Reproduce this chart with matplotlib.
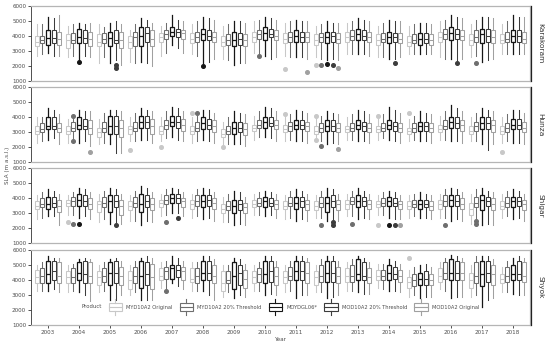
import matplotlib
matplotlib.use("Agg")
import matplotlib.pyplot as plt
from matplotlib.patches import Patch, Rectangle
from matplotlib.lines import Line2D
from matplotlib.legend_handler import HandlerBase

# Years and products (order of the boxes inside each year)
years = list(range(2003, 2019))
products = ["MYD10A2 Original", "MYD10A2 20% Threshold", "MOYDGL06*",
            "MOD10A2 20% Threshold", "MOD10A2 Original"]
colors = ["#c8c8c8", "#6e6e6e", "#151515", "#3c3c3c", "#a0a0a0"]
regions = ["Karakoram", "Hunza", "Shigar", "Shyok"]

# ---- Karakoram ----
kar_med = [
    [3600, 3700, 3600, 3600, 3900, 3800, 3600, 3900, 3800, 3700, 3900, 3700, 3600, 3900, 3700, 3700],
    [3700, 3700, 3800, 3900, 4100, 3900, 3700, 4100, 3900, 3900, 4000, 3800, 3700, 4100, 3900, 3800],
    [3850, 3950, 3850, 4000, 4300, 4100, 3700, 4200, 4000, 3900, 4100, 3900, 3800, 4200, 4100, 4000],
    [3850, 3850, 3700, 4200, 4250, 4000, 3800, 4100, 3900, 4000, 4000, 3900, 3800, 4100, 4000, 4000],
    [3800, 3800, 3700, 3800, 4200, 3900, 3700, 4000, 3900, 3800, 3900, 3800, 3700, 4000, 3900, 3800],
]
kar_q1 = [
    [3300, 3200, 3300, 3200, 3600, 3500, 3300, 3600, 3500, 3400, 3600, 3400, 3300, 3600, 3400, 3500],
    [3500, 3500, 3500, 3300, 3800, 3600, 3400, 3800, 3600, 3600, 3700, 3600, 3500, 3800, 3600, 3600],
    [3400, 3500, 3300, 3300, 4000, 3700, 3300, 3700, 3600, 3500, 3700, 3500, 3400, 3700, 3500, 3600],
    [3500, 3500, 3500, 3600, 3900, 3700, 3400, 3900, 3600, 3600, 3700, 3600, 3500, 3800, 3600, 3600],
    [3400, 3300, 3200, 3300, 3800, 3600, 3300, 3700, 3600, 3500, 3600, 3500, 3400, 3700, 3500, 3500],
]
kar_q3 = [
    [4000, 4100, 4100, 4000, 4200, 4200, 4000, 4300, 4200, 4100, 4300, 4100, 4000, 4300, 4100, 4100],
    [4000, 4200, 4200, 4300, 4400, 4300, 4100, 4400, 4300, 4200, 4400, 4200, 4100, 4500, 4400, 4300],
    [4400, 4500, 4300, 4600, 4600, 4500, 4300, 4600, 4400, 4300, 4500, 4300, 4200, 4600, 4500, 4400],
    [4400, 4400, 4400, 4600, 4500, 4400, 4200, 4500, 4300, 4300, 4400, 4200, 4200, 4500, 4500, 4400],
    [4300, 4300, 4300, 4400, 4400, 4300, 4100, 4400, 4300, 4200, 4300, 4200, 4100, 4400, 4400, 4300],
]
kar_lo = [
    [2700, 2600, 2200, 2300, 2700, 2800, 2500, 2900, 2700, 2600, 2800, 2600, 2800, 2600, 2600, 2800],
    [2800, 2700, 2600, 2200, 2900, 2700, 2400, 2800, 2600, 2500, 2800, 2600, 2800, 2500, 2700, 2800],
    [2900, 2400, 2200, 2300, 3400, 2200, 2100, 2700, 2600, 2400, 2800, 2500, 2800, 2500, 2300, 2800],
    [2700, 2700, 2400, 2200, 3200, 2300, 2200, 2500, 2600, 2500, 2800, 2500, 2800, 2400, 2400, 2800],
    [2700, 2600, 2100, 2000, 2900, 2500, 2200, 2600, 2500, 2400, 2700, 2600, 2800, 2500, 2500, 2800],
]
kar_hi = [
    [4800, 4700, 4800, 4400, 4700, 4800, 4700, 5000, 4900, 4700, 4900, 4700, 4700, 5000, 4800, 4800],
    [4800, 4800, 4600, 4800, 4900, 5000, 4800, 5100, 5000, 4800, 5000, 4900, 4800, 5100, 5100, 5000],
    [5300, 4900, 4900, 5200, 5400, 5300, 5000, 5300, 5100, 5000, 5200, 5100, 4900, 5400, 5300, 5400],
    [5200, 4800, 5000, 5100, 5100, 5200, 5000, 5200, 5000, 4900, 5100, 5000, 4900, 5300, 5300, 5300],
    [5400, 4900, 4800, 4900, 5000, 5100, 4900, 5100, 5000, 4900, 5000, 5000, 4800, 5200, 5200, 5300],
]
# outliers: (year, product index, value)
kar_out = [(2004, 2, 2300), (2005, 3, 2100), (2005, 3, 1900), (2008, 2, 2000),
           (2010, 1, 2700), (2011, 0, 1800), (2011, 4, 1600), (2012, 0, 2100),
           (2012, 1, 2100), (2012, 2, 2150), (2012, 3, 2100), (2012, 4, 1900),
           (2014, 3, 2200), (2016, 3, 2200), (2017, 1, 2200)]

# ---- Hunza ----
hun_med = [
    [3100, 3100, 3000, 3200, 3100, 3100, 2900, 3300, 3200, 3100, 3200, 3200, 3100, 3200, 3100, 3100],
    [3200, 3300, 3300, 3300, 3500, 3300, 3100, 3500, 3400, 3300, 3300, 3300, 3300, 3400, 3400, 3300],
    [3400, 3500, 3400, 3700, 3700, 3600, 3300, 3700, 3500, 3400, 3500, 3500, 3400, 3700, 3600, 3500],
    [3400, 3400, 3400, 3700, 3700, 3500, 3300, 3600, 3500, 3400, 3400, 3400, 3400, 3600, 3600, 3500],
    [3300, 3300, 3300, 3400, 3500, 3400, 3200, 3500, 3400, 3300, 3300, 3300, 3300, 3500, 3500, 3300],
]
hun_q1 = [
    [2900, 2900, 2700, 2900, 2900, 2900, 2700, 3100, 3000, 2900, 3000, 3000, 2900, 3000, 2900, 2900],
    [3000, 3100, 3000, 3100, 3200, 3100, 2900, 3300, 3100, 3000, 3100, 3100, 3000, 3200, 3100, 3000],
    [3200, 3200, 2900, 3300, 3400, 3200, 2900, 3300, 3200, 3100, 3200, 3200, 3100, 3300, 3200, 3200],
    [3200, 3200, 2900, 3300, 3300, 3200, 3000, 3400, 3200, 3100, 3100, 3100, 3100, 3300, 3200, 3200],
    [3000, 2900, 2700, 2900, 3100, 3000, 2800, 3200, 3100, 3000, 3000, 3000, 3000, 3100, 3000, 3000],
]
hun_q3 = [
    [3400, 3400, 3300, 3400, 3400, 3400, 3200, 3500, 3500, 3400, 3400, 3400, 3300, 3500, 3400, 3400],
    [3600, 3700, 3700, 3700, 3800, 3700, 3400, 3800, 3700, 3600, 3600, 3600, 3600, 3800, 3700, 3600],
    [4000, 4000, 4100, 4100, 4100, 4000, 3700, 4000, 3800, 3800, 3800, 3800, 3700, 4000, 4000, 3900],
    [4000, 3900, 4100, 4100, 4100, 3900, 3700, 4000, 3800, 3800, 3700, 3700, 3700, 4000, 4000, 3900],
    [3600, 3800, 3800, 3900, 3900, 3800, 3600, 3800, 3700, 3600, 3600, 3600, 3600, 3800, 3800, 3700],
]
hun_lo = [
    [2300, 2300, 2200, 2400, 2400, 2300, 2200, 2500, 2400, 2700, 2500, 2500, 2400, 2500, 2400, 2300],
    [2400, 2600, 2300, 2400, 2600, 2400, 2200, 2700, 2500, 2400, 2500, 2600, 2500, 2500, 2400, 2400],
    [2500, 2300, 2200, 2500, 2700, 2500, 2200, 2700, 2400, 2200, 2400, 2500, 2400, 2400, 2200, 2300],
    [2600, 2400, 1600, 2500, 2500, 2400, 2200, 2600, 2400, 2300, 2400, 2400, 2400, 2400, 1800, 2300],
    [2200, 2100, 1600, 2300, 2400, 2300, 2100, 2400, 2300, 2200, 2300, 2300, 2300, 2300, 2200, 2200],
]
hun_hi = [
    [4000, 3900, 3900, 4000, 4000, 4000, 3700, 4100, 4000, 3900, 4000, 3900, 3900, 4100, 4000, 4000],
    [4000, 3900, 4300, 4300, 4400, 4100, 4000, 4400, 4200, 4100, 4200, 4200, 4100, 4400, 4300, 4200],
    [4600, 4500, 4500, 4600, 4700, 4500, 4400, 4700, 4500, 4400, 4500, 4700, 4400, 4800, 4600, 4500],
    [4500, 4400, 4500, 4500, 4600, 4500, 4300, 4600, 4400, 4300, 4400, 4500, 4300, 4600, 4500, 4500],
    [4200, 4400, 4400, 4400, 4400, 4300, 4200, 4400, 4300, 4200, 4200, 4300, 4200, 4400, 4400, 4300],
]
hun_out = [(2004, 1, 2400), (2004, 1, 4100), (2004, 4, 1700), (2006, 0, 1800),
           (2007, 0, 2000), (2008, 0, 4300), (2008, 1, 4300), (2009, 0, 2000),
           (2011, 0, 4200), (2012, 0, 4100), (2012, 0, 2500), (2012, 1, 2100),
           (2012, 4, 1900), (2014, 0, 4100), (2015, 0, 4300), (2018, 0, 1700)]

# ---- Shigar ----
shi_med = [
    [3500, 3700, 3600, 3500, 3700, 3600, 3300, 3600, 3500, 3500, 3600, 3600, 3500, 3600, 3300, 3500],
    [3600, 3800, 3700, 3700, 3900, 3800, 3500, 3700, 3700, 3700, 3800, 3700, 3600, 3800, 3700, 3700],
    [3600, 3900, 3800, 3600, 4000, 3800, 3500, 3800, 3700, 3700, 3800, 3800, 3600, 3900, 3900, 3800],
    [3700, 3800, 3800, 3800, 4000, 3900, 3600, 3700, 3800, 3800, 3800, 3700, 3600, 3800, 3800, 3800],
    [3500, 3600, 3500, 3600, 3800, 3700, 3400, 3600, 3600, 3600, 3600, 3600, 3500, 3600, 3600, 3600],
]
shi_q1 = [
    [3300, 3500, 3100, 3200, 3400, 3300, 3000, 3400, 3300, 3200, 3300, 3400, 3300, 3300, 2900, 3300],
    [3400, 3500, 3400, 3400, 3600, 3500, 3200, 3500, 3500, 3400, 3600, 3500, 3400, 3500, 3400, 3400],
    [3300, 3500, 3100, 3100, 3700, 3400, 3000, 3400, 3300, 3100, 3400, 3500, 3300, 3500, 3200, 3400],
    [3400, 3500, 3400, 3400, 3700, 3500, 3200, 3500, 3400, 3400, 3500, 3500, 3400, 3500, 3500, 3500],
    [3100, 3300, 2900, 3200, 3400, 3300, 3000, 3300, 3200, 3200, 3300, 3300, 3200, 3300, 3200, 3200],
]
shi_q3 = [
    [3800, 3900, 3800, 3800, 3900, 3900, 3600, 3900, 3800, 3800, 3900, 3800, 3800, 3900, 3700, 3800],
    [4000, 4100, 4100, 4100, 4200, 4200, 3800, 4000, 4100, 4100, 4100, 4000, 3900, 4200, 4100, 4100],
    [4100, 4300, 4200, 4300, 4300, 4200, 3900, 4100, 4100, 4100, 4200, 4100, 3900, 4200, 4200, 4100],
    [4100, 4200, 4200, 4200, 4300, 4200, 3900, 4000, 4100, 4200, 4100, 4000, 3900, 4200, 4100, 4100],
    [3900, 4000, 3900, 4000, 4000, 4000, 3700, 3900, 3900, 3900, 3900, 3800, 3800, 4000, 4000, 3900],
]
shi_lo = [
    [2600, 2900, 2400, 2500, 2800, 2700, 2400, 2900, 2600, 2700, 2800, 2900, 2700, 2700, 2300, 2700],
    [2700, 2900, 2600, 2500, 2900, 2800, 2400, 2900, 2700, 2700, 2800, 2900, 2800, 2700, 2700, 2800],
    [2800, 2700, 2300, 2200, 3000, 2600, 2200, 2800, 2500, 2500, 2600, 2700, 2700, 2500, 2200, 2600],
    [2800, 2800, 2400, 2500, 3000, 2700, 2300, 2900, 2600, 2600, 2700, 2600, 2700, 2600, 2300, 2700],
    [2200, 2600, 2300, 2400, 2800, 2500, 2200, 2700, 2500, 2500, 2600, 2600, 2600, 2500, 2200, 2500],
]
shi_hi = [
    [4200, 4200, 4300, 4200, 4300, 4300, 4100, 4300, 4200, 4200, 4300, 4200, 4200, 4300, 4300, 4300],
    [4400, 4400, 4500, 4500, 4600, 4600, 4300, 4400, 4500, 4500, 4500, 4400, 4300, 4600, 4600, 4500],
    [4600, 4700, 4700, 4800, 4700, 4700, 4500, 4500, 4600, 4700, 4700, 4500, 4400, 4700, 4700, 4600],
    [4500, 4600, 4600, 4700, 4600, 4600, 4400, 4400, 4500, 4600, 4500, 4400, 4300, 4600, 4500, 4500],
    [4300, 4400, 4300, 4400, 4400, 4400, 4100, 4300, 4300, 4300, 4300, 4200, 4200, 4400, 4400, 4300],
]
shi_out = [(2004, 0, 2400), (2004, 1, 2300), (2004, 2, 2300), (2005, 3, 2200),
           (2007, 1, 2400), (2007, 3, 2700), (2012, 1, 2200), (2012, 3, 2400),
           (2012, 3, 2200), (2013, 1, 2300), (2014, 0, 2200), (2014, 2, 2200),
           (2014, 3, 2200), (2014, 4, 2200), (2016, 1, 2200), (2017, 1, 2500),
           (2017, 1, 2300)]

# ---- Shyok ----
shy_med = [
    [4200, 4200, 4200, 4000, 4300, 4100, 3800, 4200, 4200, 4200, 4300, 4300, 3900, 4300, 4000, 4100],
    [4300, 4200, 4300, 4300, 4600, 4300, 4000, 4400, 4300, 4300, 4300, 4300, 4000, 4500, 4300, 4300],
    [4400, 4500, 4500, 4300, 4800, 4500, 4300, 4400, 4600, 4500, 4400, 4500, 4100, 4500, 4400, 4400],
    [4600, 4400, 4500, 4400, 4700, 4500, 4500, 4600, 4600, 4500, 4300, 4400, 4100, 4500, 4500, 4400],
    [4300, 4300, 4300, 4200, 4600, 4300, 4100, 4300, 4500, 4300, 4200, 4300, 4000, 4500, 4400, 4300],
]
shy_q1 = [
    [3800, 3800, 3700, 3400, 4000, 3900, 3300, 3800, 3800, 3700, 3900, 4000, 3500, 3900, 3500, 3800],
    [3800, 3800, 3900, 3800, 4100, 3800, 3800, 3900, 4000, 3900, 3900, 4000, 3600, 4100, 3800, 3900],
    [3800, 4000, 3700, 3500, 4100, 4000, 3400, 3800, 4000, 3900, 4000, 4000, 3700, 4000, 3600, 4000],
    [4000, 3800, 3800, 3700, 4200, 4000, 3700, 3900, 4000, 3900, 4000, 4100, 3700, 4000, 3900, 4000],
    [3800, 3800, 3700, 3400, 4000, 3800, 3500, 3700, 3800, 3800, 3800, 3900, 3700, 4000, 3700, 3900],
]
shy_q3 = [
    [4700, 4600, 4600, 4600, 4800, 4800, 4600, 4600, 4600, 4600, 4800, 4700, 4200, 4800, 4500, 4400],
    [4800, 4800, 4800, 4900, 4900, 4800, 4600, 4800, 4900, 5000, 5000, 4700, 4400, 5200, 5200, 4900],
    [5300, 5200, 5200, 5300, 5000, 5300, 5200, 5300, 5300, 5300, 5400, 5000, 4500, 5400, 5300, 5000],
    [5300, 5300, 5300, 5200, 5000, 5300, 5000, 5300, 5300, 5300, 5200, 4900, 4600, 5300, 5300, 5300],
    [5200, 5200, 4900, 5100, 4900, 5000, 4700, 4900, 5200, 4900, 4800, 4700, 4400, 5200, 5000, 5200],
]
shy_lo = [
    [3300, 3200, 3200, 3000, 3500, 3300, 2900, 3300, 3200, 3200, 3300, 3500, 2900, 3400, 2900, 3200],
    [3300, 3300, 3300, 3200, 3500, 3300, 3200, 3300, 3300, 3200, 3300, 3400, 3000, 3300, 3000, 3200],
    [3300, 3200, 2700, 2700, 3800, 3300, 2800, 3000, 2800, 2800, 3200, 3300, 2800, 2800, 2200, 3100],
    [3400, 3000, 2700, 2700, 3600, 3000, 3000, 3100, 3000, 2900, 3100, 3300, 2900, 2900, 2700, 3000],
    [3200, 2600, 3000, 2700, 3400, 2700, 2900, 3000, 3000, 3000, 3100, 3200, 2900, 2900, 2800, 3000],
]
shy_hi = [
    [5000, 5000, 5000, 5000, 5200, 5200, 5000, 5000, 5000, 5000, 5200, 5100, 4700, 5200, 5000, 4900],
    [5200, 5100, 5200, 5300, 5300, 5200, 5000, 5200, 5300, 5400, 5400, 5100, 4900, 5500, 5600, 5300],
    [5600, 5400, 5400, 5500, 5600, 5600, 5500, 5600, 5600, 5600, 5600, 5400, 5000, 5700, 5600, 5500],
    [5500, 5500, 5500, 5600, 5500, 5600, 5400, 5600, 5600, 5600, 5500, 5300, 5100, 5600, 5600, 5600],
    [5500, 5400, 5300, 5500, 5300, 5400, 5100, 5300, 5500, 5300, 5200, 5100, 4900, 5500, 5400, 5500],
]
shy_out = [(2007, 1, 3300), (2015, 0, 5500)]

region_data = [
    (kar_q1, kar_med, kar_q3, kar_lo, kar_hi, kar_out),
    (hun_q1, hun_med, hun_q3, hun_lo, hun_hi, hun_out),
    (shi_q1, shi_med, shi_q3, shi_lo, shi_hi, shi_out),
    (shy_q1, shy_med, shy_q3, shy_lo, shy_hi, shy_out),
]


class BoxHandler(HandlerBase):
    """Draws a tiny boxplot glyph as a legend key."""
    def create_artists(self, legend, orig_handle, xdescent, ydescent,
                       width, height, fontsize, trans):
        c = orig_handle.get_edgecolor()
        x0, y0 = -xdescent, -ydescent
        xc = x0 + width / 2
        yb, yt = y0 + 0.1 * height, y0 + 0.9 * height
        rect = Rectangle((x0, yb), width, yt - yb,
                         facecolor="white", edgecolor=c, lw=0.8, transform=trans)
        med = Line2D([x0, x0 + width], [y0 + 0.5 * height] * 2,
                     color=c, lw=0.8, transform=trans)
        w1 = Line2D([xc, xc], [y0 - 0.3 * height, yb], color=c, lw=0.8, transform=trans)
        w2 = Line2D([xc, xc], [yt, y0 + 1.3 * height], color=c, lw=0.8, transform=trans)
        return [rect, med, w1, w2]


W, H = 550, 346
fig = plt.figure(figsize=(W / 100, H / 100), dpi=100)

left_px, right_px = 31, 530
panel_tops = [6, 87, 168, 250]
panel_h = 75
offsets = [-0.36, -0.18, 0.0, 0.18, 0.36]
text_col = "#4d4d4d"
frame_col = "#b5b5b5"
fs = 4.1

axes = []
for r, (name, data) in enumerate(zip(regions, region_data)):
    q1s, meds, q3s, los, his, outs = data
    top = panel_tops[r]
    ax = fig.add_axes([left_px / W, 1 - (top + panel_h) / H,
                       (right_px - left_px) / W, panel_h / H])
    axes.append(ax)
    for p in range(len(products)):
        stats = []
        for i, yr in enumerate(years):
            fl = [v for (y, pi, v) in outs if y == yr and pi == p]
            stats.append(dict(med=meds[p][i], q1=q1s[p][i], q3=q3s[p][i],
                              whislo=los[p][i], whishi=his[p][i], fliers=fl))
        c = colors[p]
        lw = 0.9 if p == 2 else 0.75
        ax.bxp(stats, positions=[i + offsets[p] for i in range(len(years))],
               widths=0.13, showcaps=False, showfliers=True, patch_artist=True,
               boxprops=dict(facecolor="white", edgecolor=c, lw=lw),
               medianprops=dict(color=c, lw=lw),
               whiskerprops=dict(color=c, lw=lw),
               flierprops=dict(marker="o", markerfacecolor=c, markeredgecolor=c,
                               markersize=2.6, lw=0))
    ax.set_xlim(-0.55, len(years) - 0.45)
    ax.set_ylim(1000, 6000)
    ax.set_yticks([1000, 2000, 3000, 4000, 5000, 6000])
    ax.tick_params(axis="y", labelsize=fs, length=2, width=0.6, pad=1.5,
                   colors="#333333", labelcolor=text_col)
    for s in ax.spines.values():
        s.set_color(frame_col)
        s.set_linewidth(0.9)
    ax.spines["left"].set_color("#333333")
    ax.spines["left"].set_linewidth(0.6)
    if r < 3:
        ax.set_xticks([])
    else:
        ax.set_xticks(range(len(years)))
        ax.set_xticklabels([str(y) for y in years])
        ax.tick_params(axis="x", labelsize=fs, length=2, width=0.6, pad=1.5,
                       colors="#333333", labelcolor=text_col)
        ax.set_xlabel("Year", fontsize=fs, color=text_col, labelpad=1.5)

    # facet strip on the right
    sax = fig.add_axes([(right_px + 1) / W, 1 - (top + panel_h) / H,
                        (W - right_px - 1) / W, panel_h / H])
    sax.set_xticks([])
    sax.set_yticks([])
    for k, s in sax.spines.items():
        s.set_visible(k == "left")
    sax.spines["left"].set_color("#222222")
    sax.spines["left"].set_linewidth(0.9)
    sax.text(0.5, 0.5, name, rotation=-90, ha="center", va="center",
             fontsize=5.3, color="#333333", transform=sax.transAxes)

fig.text(8 / W, 1 - 165 / H, "SLA (m a.s.l.)", rotation=90, ha="center", va="center",
         fontsize=fs, color=text_col)

# legend inside the bottom panel
handles = [Patch(facecolor="white", edgecolor=c, label=lab) for c, lab in zip(colors, products)]
fig.text(82 / W, 1 - 307 / H, "Product", ha="left", va="center", fontsize=3.9, color=text_col)
leg = fig.legend(handles=handles, loc="center", ncol=5, frameon=False,
                 bbox_to_anchor=(294 / W, 1 - 307 / H), bbox_transform=fig.transFigure,
                 fontsize=3.7, handler_map={Patch: BoxHandler()},
                 handlelength=2.6, handleheight=2.6, handletextpad=0.8,
                 columnspacing=1.4, borderpad=0)
for t in leg.get_texts():
    t.set_color(text_col)

fig.savefig("out.png", dpi=100)
